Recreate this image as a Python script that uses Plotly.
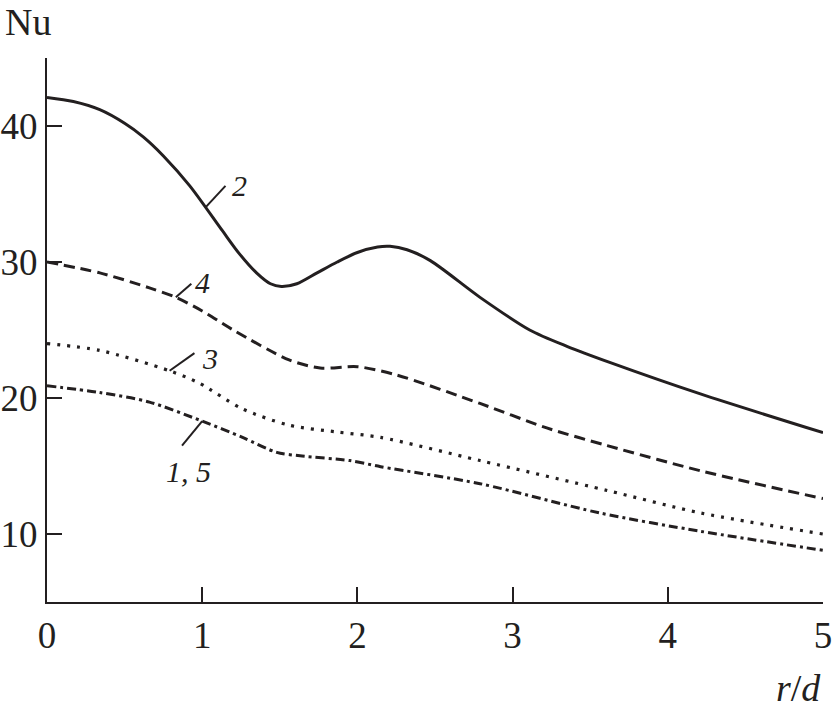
import plotly.graph_objects as go

# Curve 2 (solid)
x2 = [0, 0.17, 0.34, 0.5, 0.62, 0.75, 0.92, 1.13, 1.24, 1.35, 1.44, 1.51, 1.61, 1.74, 1.87, 2.0, 2.13, 2.21, 2.32, 2.47, 2.79, 3.11, 3.35, 3.63, 4.21, 5.0]
y2 = [42.1, 41.8, 41.2, 40.2, 39.2, 37.8, 35.6, 32.3, 30.6, 29.2, 28.4, 28.2, 28.4, 29.2, 30.0, 30.7, 31.1, 31.15, 30.9, 30.1, 27.4, 25.0, 23.8, 22.6, 20.3, 17.45]
# Curve 4 (dashed)
x4 = [0, 0.34, 0.66, 0.83, 1.0, 1.2, 1.56, 1.76, 2.0, 2.25, 2.79, 3.22, 3.61, 4.21, 5.0]
y4 = [30.0, 29.2, 28.1, 27.4, 26.4, 25.0, 22.8, 22.2, 22.3, 21.7, 19.6, 17.8, 16.5, 14.65, 12.6]
# Curve 3 (dotted)
x3 = [0, 0.34, 0.79, 0.98, 1.26, 1.56, 1.87, 2.15, 2.79, 3.61, 4.21, 5.0]
y3 = [24.0, 23.5, 22.0, 21.1, 19.2, 18.0, 17.5, 17.1, 15.4, 13.2, 11.55, 10.0]
# Curves 1, 5 (dash-dot)
x1 = [0, 0.34, 0.66, 1.0, 1.26, 1.48, 1.63, 1.95, 2.15, 2.79, 3.56, 4.21, 5.0]
y1 = [20.9, 20.4, 19.7, 18.3, 17.1, 16.0, 15.75, 15.4, 14.95, 13.7, 11.55, 10.2, 8.8]

x_ticks = [0, 1, 2, 3, 4, 5]
y_ticks = [10, 20, 30, 40]

# curve labels: text, leader start (on curve), leader end, text position
labels = [
    ("2", (1.02, 34.0), (1.15, 35.6), (1.24, 35.6)),
    ("4", (0.83, 27.4), (0.93, 28.4), (1.0, 28.5)),
    ("3", (0.79, 22.0), (0.95, 23.3), (1.05, 22.9)),
    ("1, 5", (1.0, 18.3), (0.87, 16.5), (0.91, 14.6)),
]

black = "#231f20"
font = "Liberation Serif"

fig = go.Figure()
fig.add_trace(go.Scatter(x=x2, y=y2, mode="lines", line=dict(color=black, width=3, shape="spline", smoothing=0.8)))
fig.add_trace(go.Scatter(x=x4, y=y4, mode="lines", line=dict(color=black, width=3, shape="spline", smoothing=0.8, dash="11px,6px")))
fig.add_trace(go.Scatter(x=x3, y=y3, mode="lines", line=dict(color=black, width=3.2, shape="spline", smoothing=0.8, dash="3px,7px")))
fig.add_trace(go.Scatter(x=x1, y=y1, mode="lines", line=dict(color=black, width=3, shape="spline", smoothing=0.8, dash="9px,4px,3px,4px")))

for txt, p0, p1, pt in labels:
    fig.add_shape(type="line", x0=p0[0], y0=p0[1], x1=p1[0], y1=p1[1], xref="x", yref="y",
                  line=dict(color=black, width=2))
    fig.add_annotation(x=pt[0], y=pt[1], xref="x", yref="y", text=f"<i>{txt}</i>", showarrow=False,
                       font=dict(family=font, size=30, color=black))

fig.add_annotation(x=0, y=1, xref="paper", yref="paper", text="Nu", showarrow=False,
                   xanchor="center", yanchor="bottom", xshift=-19, yshift=13,
                   font=dict(family=font, size=38, color=black))
fig.add_annotation(x=1, y=0, xref="paper", yref="paper", text="<i>r</i>/<i>d</i>", showarrow=False,
                   xanchor="right", yanchor="top", yshift=-63,
                   font=dict(family=font, size=38, color=black))

fig.update_layout(
    width=833, height=713,
    margin=dict(l=47, r=10, t=58, b=111),
    plot_bgcolor="white", paper_bgcolor="white",
    showlegend=False,
    font=dict(family=font, size=37, color=black),
)
fig.update_xaxes(range=[0, 5], tickvals=x_ticks, ticktext=[str(v) for v in x_ticks], automargin=False,
                 showgrid=False, zeroline=False, showline=True, linecolor=black, linewidth=2,
                 ticks="inside", ticklen=15, tickwidth=2, tickcolor=black)
fig.update_yaxes(range=[5, 45], tickvals=y_ticks, ticktext=[str(v) for v in y_ticks], automargin=False,
                 showgrid=False, zeroline=False, showline=True, linecolor=black, linewidth=2,
                 ticks="inside", ticklen=15, tickwidth=2, tickcolor=black)

fig.write_html("out.html", config={"displayModeBar": False},
               post_script="document.body.style.margin='0px';")
